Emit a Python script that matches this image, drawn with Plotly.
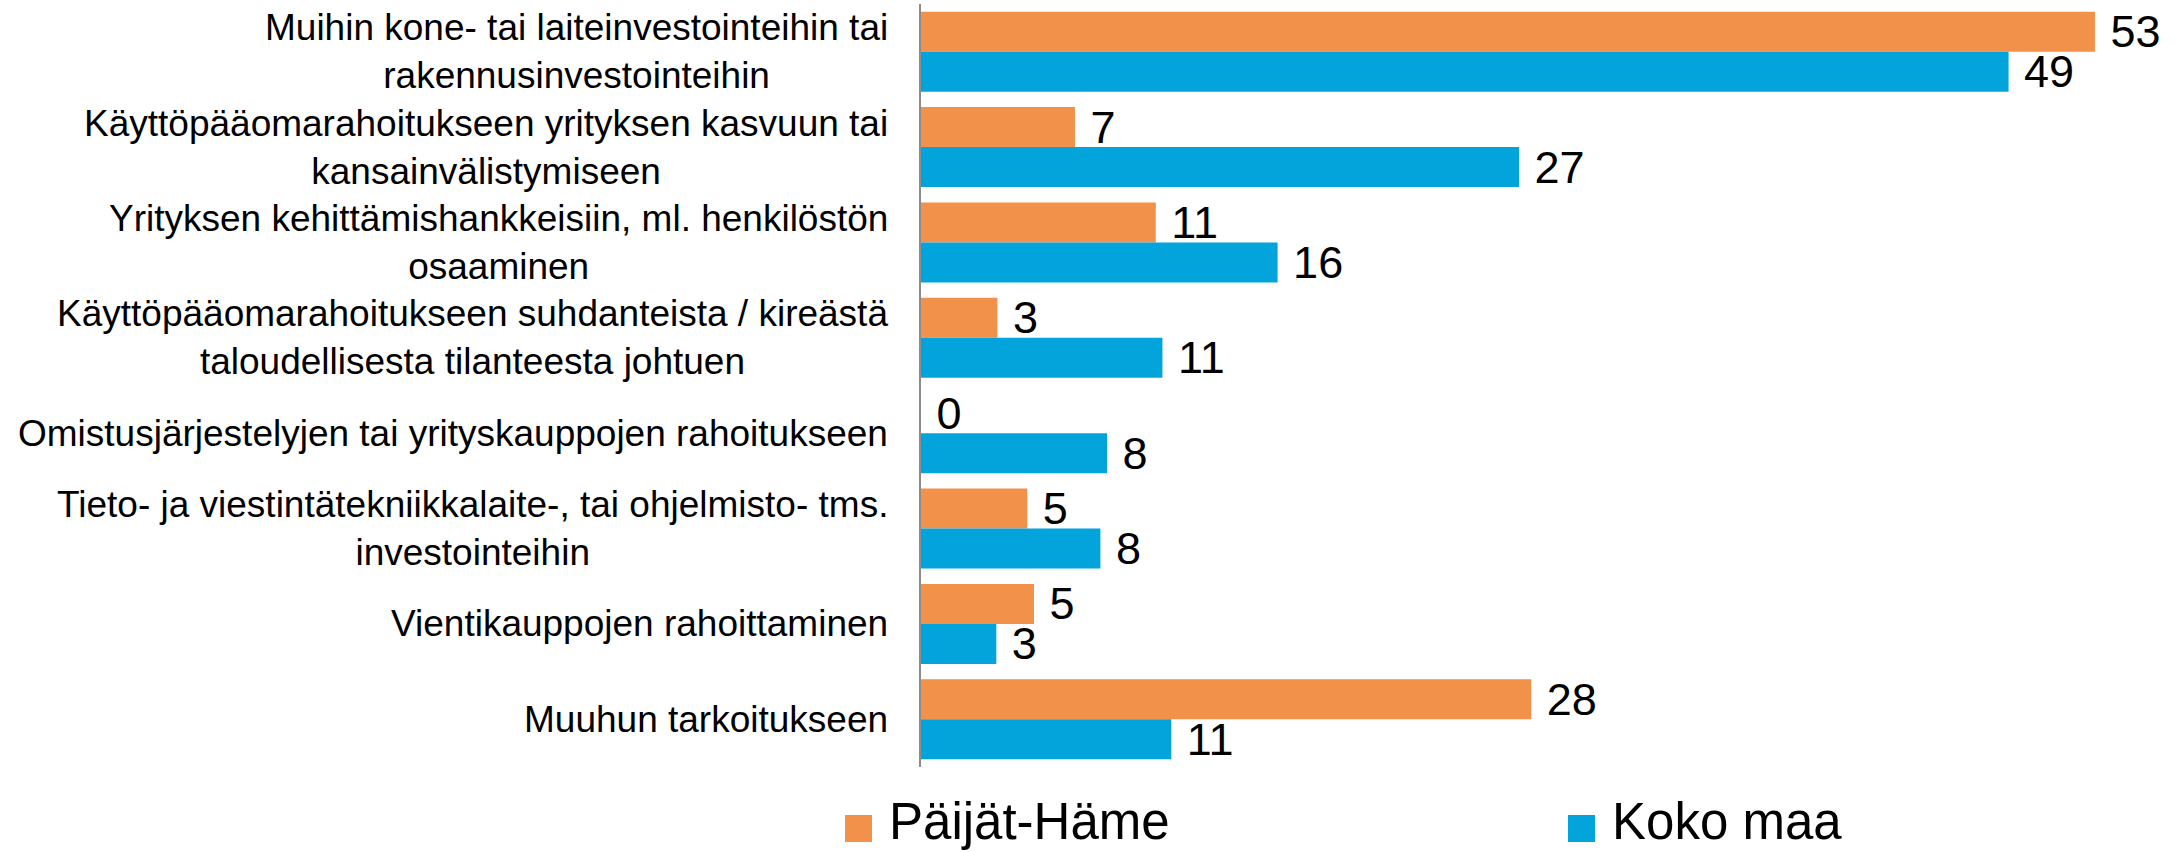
import plotly.graph_objects as go

categories = [
    "Muihin kone- tai laiteinvestointeihin tai<br>rakennusinvestointeihin",
    "Käyttöpääomarahoitukseen yrityksen kasvuun tai<br>kansainvälistymiseen",
    "Yrityksen kehittämishankkeisiin, ml. henkilöstön<br>osaaminen",
    "Käyttöpääomarahoitukseen suhdanteista / kireästä<br>taloudellisesta tilanteesta johtuen",
    "Omistusjärjestelyjen tai yrityskauppojen rahoitukseen",
    "Tieto- ja viestintätekniikkalaite-, tai ohjelmisto- tms.<br>investointeihin",
    "Vientikauppojen rahoittaminen",
    "Muuhun tarkoitukseen",
]
paijat_hame = [53.0, 6.95, 10.6, 3.45, 0, 4.8, 5.1, 27.55]
koko_maa = [49.1, 27.0, 16.1, 10.9, 8.4, 8.1, 3.4, 11.3]
series_names = ["Päijät-Häme", "Koko maa"]
colors = ["#F1914A", "#02A4DB"]

W, H = 2177, 852
L, R, T, B = 921, 0, 4, 85
pw, ph = W - L - R, H - T - B
FONT = "Liberation Sans, Arial"

fig = go.Figure()
for name, vals, col in zip(series_names, [paijat_hame, koko_maa], colors):
    fig.add_trace(go.Bar(
        y=categories, x=vals, name=name, orientation="h",
        marker=dict(color=col, line=dict(width=0)),
        texttemplate="\u00a0%{x:.0f}", textposition="outside",
        textfont=dict(size=45, color="black", family=FONT),
        constraintext="none", cliponaxis=False, showlegend=False,
    ))

def px(x):
    return (x - L) / pw

def py(y):
    return (H - B - y) / ph

shapes = []
annotations = []
for cat in categories:
    annotations.append(dict(xref="paper", yref="y", x=px(890), y=cat, text=cat,
                            showarrow=False, xanchor="right", yanchor="middle",
                            align="center",
                            font=dict(size=37, color="black", family=FONT)))
for name, col, sx, tx in zip(series_names, colors, [845, 1568], [887, 1610]):
    shapes.append(dict(type="rect", xref="paper", yref="paper",
                       x0=px(sx), x1=px(sx + 27), y0=py(842), y1=py(815),
                       fillcolor=col, line=dict(width=0)))
    annotations.append(dict(xref="paper", yref="paper", x=px(tx), y=py(821),
                            text=name, showarrow=False, xanchor="left", yanchor="middle",
                            font=dict(size=51, color="black", family=FONT)))

fig.update_layout(
    width=W, height=H,
    margin=dict(l=L, r=R, t=T, b=B, pad=0),
    barmode="group", bargap=0.16, bargroupgap=0,
    plot_bgcolor="white", paper_bgcolor="white",
    font=dict(family=FONT, color="black"),
    xaxis=dict(range=[0, pw / 22.15], showgrid=False, zeroline=False,
               showticklabels=False, showline=False, fixedrange=True),
    yaxis=dict(autorange="reversed", showgrid=False, showline=True,
               linecolor="#8c8c8c", linewidth=2, ticks="",
               showticklabels=False, automargin=False),
    shapes=shapes, annotations=annotations, showlegend=False,
)
fig.write_html("out.html")
